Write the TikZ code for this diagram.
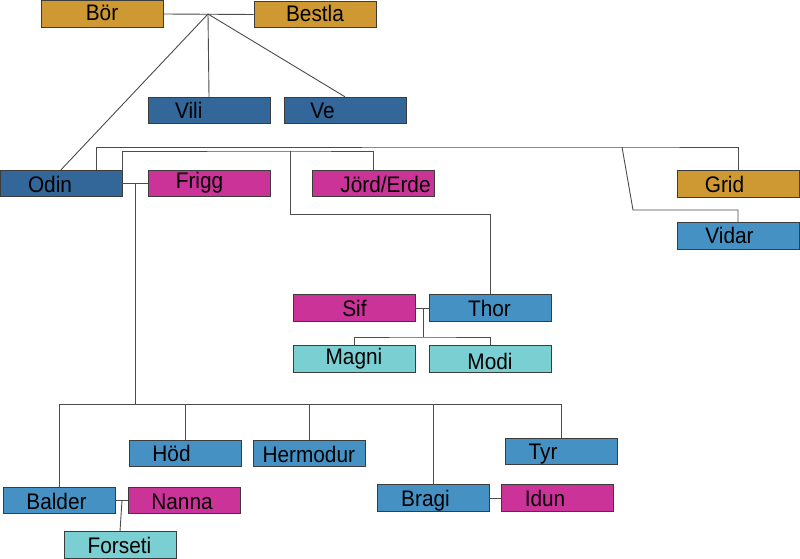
\documentclass[tikz,border=0pt]{standalone}
\usepackage{fontspec}
\setmainfont{Liberation Sans}[FakeStretch=0.925]
\usetikzlibrary{calc}
\definecolor{cgold}{RGB}{206,153,51}
\definecolor{cdark}{RGB}{51,102,153}
\definecolor{clight}{RGB}{70,145,196}
\definecolor{cmag}{RGB}{204,51,153}
\definecolor{ccyan}{RGB}{122,207,211}
\definecolor{cborder}{RGB}{60,60,60}
\tikzset{
  box/.style={draw=cborder, line width=0.9pt, rectangle, inner sep=0pt},
  wide/.style={box, minimum width=122pt, minimum height=26.5pt},
  narrow/.style={box, minimum width=112pt, minimum height=26.5pt},
  txt/.style={anchor=base, inner sep=0pt, font=\fontsize{22.5}{26}\selectfont},
  conn/.style={draw=black!70, line width=0.9pt},
}
\begin{document}
\begin{tikzpicture}[x=1pt,y=-1pt]
\useasboundingbox[fill=white] (0,0) rectangle (800,559);
% boxes
\node[wide,fill=cgold]  (bor)    at (102,14) {};
\node[wide,fill=cgold]  (bestla) at (315,14.5) {};
\node[wide,fill=cdark]  (vili)   at (209,110.5) {};
\node[wide,fill=cdark]  (ve)     at (345,110.5) {};
\node[wide,fill=cdark]  (odin)   at (61,183.5) {};
\node[wide,fill=cmag]   (frigg)  at (209,183.5) {};
\node[wide,fill=cmag]   (jord)   at (373,183.5) {};
\node[wide,fill=cgold]  (grid)   at (738,184) {};
\node[wide,fill=clight] (vidar)  at (738,236) {};
\node[wide,fill=cmag]   (sif)    at (354,308) {};
\node[wide,fill=clight] (thor)   at (490,308) {};
\node[wide,fill=ccyan]  (magni)  at (354,359) {};
\node[wide,fill=ccyan]  (modi)   at (490,359) {};
\node[narrow,fill=clight] (hod)      at (185,453.5) {};
\node[narrow,fill=clight] (hermodur) at (309,453.5) {};
\node[narrow,fill=clight] (tyr)      at (561,451.5) {};
\node[narrow,fill=clight] (balder)   at (59,500.5) {};
\node[narrow,fill=cmag]   (nanna)    at (184.5,500.5) {};
\node[narrow,fill=clight] (bragi)    at (433,498) {};
\node[narrow,fill=cmag]   (idun)     at (557,498) {};
\node[narrow,fill=ccyan]  (forseti)  at (120,545) {};
% texts
\node[txt] (tbor)    at (102,21) {Bör};
\node[txt] (tbestla) at (315,22) {Bestla};
\node[txt] (tvili)   at (188.7,118) {Vili};
\node[txt] (tve)     at (322.5,118) {Ve};
\node[txt] (todin)   at (50,192.5) {Odin};
\node[txt] (tfrigg)  at (199.5,188.5) {Frigg};
\node[txt] (tjord)   at (385.5,192) {Jörd/Erde};
\node[txt] (tgrid)   at (724.5,192) {Grid};
\node[txt] (tvidar)  at (729.5,243) {Vidar};
\node[txt] (tsif)    at (354.5,316.5) {Sif};
\node[txt] (tthor)   at (489.5,316.5) {Thor};
\node[txt] (tmagni)  at (354,364) {Magni};
\node[txt] (tmodi)   at (490,369) {Modi};
\node[txt] (thod)    at (171.5,461.5) {Höd};
\node[txt] (thermo)  at (308.8,462) {Hermodur};
\node[txt] (ttyr)    at (543,459) {Tyr};
\node[txt] (tbalder) at (56.5,509) {Balder};
\node[txt] (tnanna)  at (182,509) {Nanna};
\node[txt] (tbragi)  at (425.5,506) {Bragi};
\node[txt] (tidun)   at (545,506) {Idun};
\node[txt] (tfors)   at (119.5,553) {Forseti};
% junction coordinates
\coordinate (j1) at (208,14);
\coordinate (c1) at (622,147);
\coordinate (c2) at (633,210);
\coordinate (c3) at (290,151);
\coordinate (c4) at (290,214);
\coordinate (m1) at (135,183.5);
\coordinate (m2) at (135,404);
\coordinate (f1) at (122,500.5);
\coordinate (s1) at (423,308);
\coordinate (s2) at (423,337);
% connectors
\draw[conn] (bor.east) -- (bestla.west);
\draw[conn] (j1) -- (vili.north);
\draw[conn] (j1) -- (ve.north);
\draw[conn] (j1) -- (odin.north);
\draw[conn] ($(odin.north west)+(97,0)$) |- (c1) -| (grid.north);
\draw[conn] (c1) -- (c2) -| (vidar.north);
\draw[conn] (odin.north east) |- (c3) -| (jord.north);
\draw[conn] (c3) -- (c4) -| (thor.north);
\draw[conn] (odin.east) -- (frigg.west);
\draw[conn] (m1) -- (m2);
\draw[conn] (balder.north |- m2) -- (tyr.north |- m2);
\draw[conn] (balder.north |- m2) -- (balder.north);
\draw[conn] (hod.north |- m2) -- (hod.north);
\draw[conn] (hermodur.north |- m2) -- (hermodur.north);
\draw[conn] (bragi.north |- m2) -- (bragi.north);
\draw[conn] (tyr.north |- m2) -- (tyr.north);
\draw[conn] (balder.east) -- (nanna.west);
\draw[conn] (f1) -- (forseti.north);
\draw[conn] (bragi.east) -- (idun.west);
\draw[conn] (sif.east) -- (thor.west);
\draw[conn] (s1) -- (s2);
\draw[conn] (magni.north) |- (s2) -| (modi.north);
\end{tikzpicture}
\end{document}
